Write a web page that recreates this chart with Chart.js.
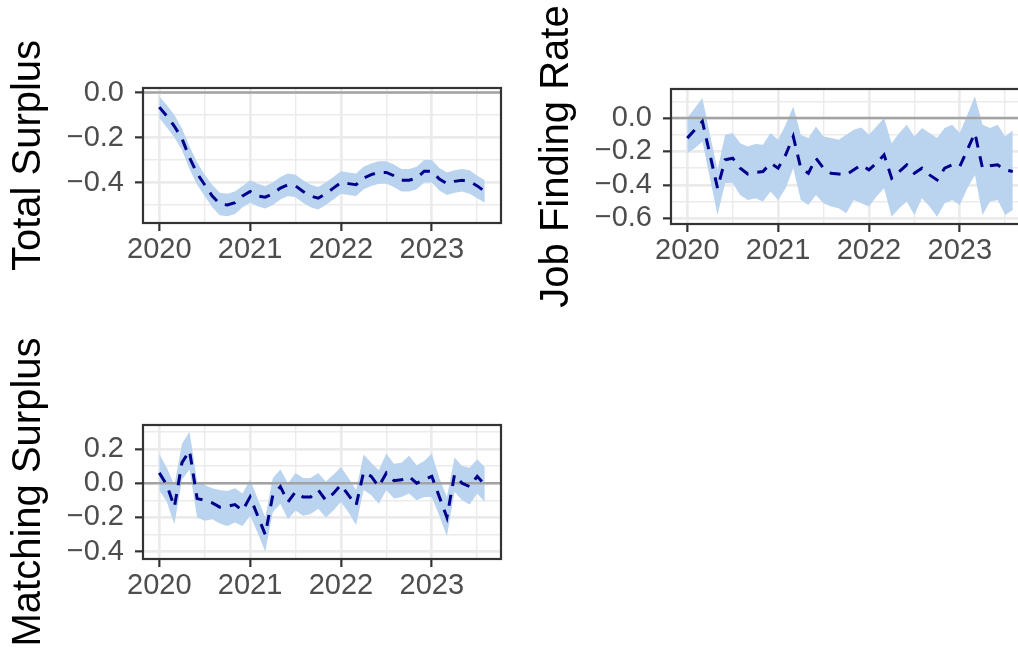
<!DOCTYPE html>
<html>
<head>
<meta charset="utf-8">
<script src="https://cdn.jsdelivr.net/npm/chart.js"></script>
<style>
  body { margin: 0; background: #fff; }
  #wrap { position: relative; width: 1018px; height: 648px; overflow: hidden; }
  canvas { position: absolute; }
</style>
</head>
<body>
<div id="wrap">
  <canvas id="totalChart" width="509" height="324" style="left:0;top:0"></canvas>
  <canvas id="jobChart" width="509" height="324" style="left:528px;top:1px"></canvas>
  <canvas id="matchChart" width="509" height="323" style="left:0;top:337px"></canvas>
</div>
<script>
// monthly observations, Jan 2020 - Aug 2023
const months = [
  '2020-01', '2020-02', '2020-03', '2020-04', '2020-05', '2020-06', '2020-07', '2020-08', '2020-09', '2020-10', '2020-11', '2020-12',
  '2021-01', '2021-02', '2021-03', '2021-04', '2021-05', '2021-06', '2021-07', '2021-08', '2021-09', '2021-10', '2021-11', '2021-12',
  '2022-01', '2022-02', '2022-03', '2022-04', '2022-05', '2022-06', '2022-07', '2022-08', '2022-09', '2022-10', '2022-11', '2022-12',
  '2023-01', '2023-02', '2023-03', '2023-04', '2023-05', '2023-06', '2023-07', '2023-08'
];

const totalEst = [-0.065, -0.105, -0.15, -0.205, -0.29, -0.36, -0.41, -0.46, -0.495, -0.50, -0.49, -0.46,
  -0.44, -0.46, -0.465, -0.45, -0.425, -0.41, -0.415, -0.44, -0.46, -0.47, -0.45, -0.425,
  -0.40, -0.405, -0.41, -0.38, -0.365, -0.355, -0.355, -0.37, -0.39, -0.39, -0.38, -0.35,
  -0.35, -0.385, -0.405, -0.395, -0.39, -0.395, -0.415, -0.44];
const totalLow = [-0.112, -0.155, -0.20, -0.255, -0.34, -0.41, -0.46, -0.51, -0.545, -0.55, -0.54, -0.51,
  -0.49, -0.505, -0.515, -0.50, -0.475, -0.46, -0.465, -0.49, -0.51, -0.52, -0.50, -0.475,
  -0.45, -0.455, -0.46, -0.43, -0.415, -0.405, -0.405, -0.42, -0.44, -0.44, -0.43, -0.40,
  -0.40, -0.435, -0.455, -0.445, -0.44, -0.45, -0.47, -0.49];
const totalHigh = [-0.018, -0.055, -0.10, -0.16, -0.24, -0.31, -0.365, -0.41, -0.445, -0.45, -0.44, -0.415,
  -0.39, -0.405, -0.415, -0.40, -0.375, -0.36, -0.365, -0.39, -0.41, -0.42, -0.40, -0.375,
  -0.35, -0.355, -0.36, -0.33, -0.315, -0.305, -0.305, -0.32, -0.34, -0.34, -0.33, -0.30,
  -0.30, -0.335, -0.355, -0.345, -0.34, -0.345, -0.37, -0.39];

const jobEst = [-0.12, -0.07, -0.02, -0.22, -0.42, -0.25, -0.24, -0.30, -0.335, -0.325, -0.32, -0.27,
  -0.30, -0.22, -0.11, -0.30, -0.33, -0.24, -0.30, -0.33, -0.335, -0.34, -0.31, -0.28,
  -0.31, -0.27, -0.22, -0.36, -0.32, -0.28, -0.33, -0.30, -0.34, -0.37, -0.30, -0.28,
  -0.29, -0.19, -0.09, -0.30, -0.285, -0.28, -0.31, -0.32];
const jobLow = [-0.21, -0.18, -0.14, -0.36, -0.58, -0.39, -0.39, -0.46, -0.49, -0.48, -0.50, -0.44,
  -0.49, -0.42, -0.30, -0.49, -0.52, -0.46, -0.51, -0.53, -0.54, -0.57, -0.49, -0.51,
  -0.53, -0.47, -0.42, -0.59, -0.54, -0.50, -0.58, -0.48, -0.53, -0.59, -0.51, -0.49,
  -0.52, -0.42, -0.34, -0.58, -0.50, -0.49, -0.58, -0.55];
const jobHigh = [0.00, 0.06, 0.12, -0.10, -0.31, -0.10, -0.09, -0.15, -0.17, -0.155, -0.16, -0.09,
  -0.13, -0.04, 0.07, -0.10, -0.12, -0.05, -0.11, -0.12, -0.13, -0.10, -0.07, -0.056,
  -0.10, -0.05, 0.00, -0.15, -0.09, -0.04, -0.11, -0.06, -0.09, -0.12, -0.06, -0.04,
  -0.09, 0.02, 0.13, -0.04, -0.06, -0.04, -0.11, -0.075];

const matchEst = [0.06, -0.01, -0.14, 0.12, 0.19, -0.09, -0.10, -0.115, -0.14, -0.135, -0.125, -0.16,
  -0.08, -0.19, -0.30, -0.07, -0.02, -0.11, -0.05, -0.08, -0.08, -0.04, -0.10, -0.06,
  -0.01, -0.07, -0.13, 0.065, 0.04, -0.02, 0.06, 0.015, 0.02, 0.04, 0.00, 0.02,
  0.04, -0.08, -0.20, 0.05, 0.00, -0.02, 0.04, -0.01];
const matchLow = [-0.04, -0.11, -0.24, 0.02, 0.08, -0.20, -0.22, -0.21, -0.235, -0.25, -0.23, -0.25,
  -0.19, -0.29, -0.40, -0.17, -0.12, -0.21, -0.16, -0.19, -0.18, -0.15, -0.20, -0.16,
  -0.11, -0.17, -0.245, -0.04, -0.07, -0.12, -0.04, -0.09, -0.08, -0.06, -0.10, -0.08,
  -0.08, -0.19, -0.31, -0.05, -0.10, -0.125, -0.06, -0.11];
const matchHigh = [0.17, 0.09, -0.01, 0.23, 0.30, 0.01, -0.01, -0.03, -0.04, -0.045, -0.03, -0.06,
  0.02, -0.09, -0.20, 0.03, 0.08, 0.00, 0.06, 0.03, 0.03, 0.06, 0.01, 0.05,
  0.095, 0.03, -0.04, 0.167, 0.12, 0.076, 0.173, 0.114, 0.12, 0.16, 0.105, 0.13,
  0.173, 0.03, -0.08, 0.15, 0.10, 0.09, 0.14, 0.095];

// tick labels
const xMajor = [2020, 2021, 2022, 2023];
const xMinor = [2020.5, 2021.5, 2022.5, 2023.5];
const totalMajor = [0, -0.2, -0.4];
const totalMinor = [-0.1, -0.3, -0.5];
const jobMajor = [0, -0.2, -0.4, -0.6];
const jobMinor = [0.1, -0.1, -0.3, -0.5];
const matchMajor = [0.2, 0, -0.2, -0.4];
const matchMinor = [0.3, 0.1, -0.1, -0.3];

const xMin = 2019.821;
const xMax = 2023.762;
const FONT = "'Liberation Sans', Arial, sans-serif";

function monthToYear(m) {
  const [y, mo] = m.split('-').map(Number);
  return y + (mo - 1) / 12;
}

function toPoints(values) {
  return values.map((v, i) => ({ x: monthToYear(months[i]), y: v }));
}

function fmt(v) {
  const s = v.toFixed(1);
  return s.replace('-', '\u2212');
}

// ggplot style panel border
const panelBorder = {
  id: 'panelBorder',
  afterDatasetsDraw(chart) {
    const { ctx, chartArea: a } = chart;
    ctx.save();
    ctx.strokeStyle = '#333333';
    ctx.lineWidth = 2.2;
    ctx.strokeRect(a.left, a.top, a.right - a.left, a.bottom - a.top);
    ctx.restore();
  }
};

function gridOpts(major) {
  return {
    color: '#ebebeb',
    lineWidth: c => (c.tick && major.includes(c.tick.value)) ? 2.7 : 1.4,
    tickColor: c => (c.tick && major.includes(c.tick.value)) ? '#333333' : 'rgba(0,0,0,0)',
    tickLength: 8,
    tickWidth: 2.2
  };
}

function makeChart(id, title, est, lo, hi, yMin, yMax, yMajor, yMinor) {
  const ctx = document.getElementById(id).getContext('2d');
  return new Chart(ctx, {
    type: 'line',
    data: {
      datasets: [
        { data: toPoints(est), borderColor: '#00008b', borderWidth: 3, borderDash: [11, 9], pointRadius: 0, fill: false },
        { data: [{ x: xMin, y: 0 }, { x: xMax, y: 0 }], borderColor: '#a3a3a3', borderWidth: 2.6, pointRadius: 0, fill: false },
        { data: toPoints(hi), borderColor: 'rgba(0,0,0,0)', borderWidth: 0, pointRadius: 0, fill: 3, backgroundColor: '#bad3ef' },
        { data: toPoints(lo), borderColor: 'rgba(0,0,0,0)', borderWidth: 0, pointRadius: 0, fill: false }
      ]
    },
    options: {
      responsive: false,
      animation: false,
      events: [],
      layout: { padding: { top: 88, right: 8, left: 0, bottom: 0 } },
      elements: { line: { tension: 0 } },
      plugins: { legend: { display: false }, tooltip: { enabled: false } },
      scales: {
        x: {
          type: 'linear',
          min: xMin,
          max: xMax,
          afterBuildTicks: axis => { axis.ticks = xMajor.concat(xMinor).sort().map(v => ({ value: v })); },
          afterFit: axis => { axis.height = 101; },
          border: { display: false },
          grid: gridOpts(xMajor),
          ticks: {
            autoSkip: false,
            maxRotation: 0,
            padding: 2,
            color: '#4d4d4d',
            font: { family: FONT, size: 29 },
            callback: v => xMajor.includes(v) ? String(v) : ''
          }
        },
        y: {
          min: yMin,
          max: yMax,
          afterBuildTicks: axis => { axis.ticks = yMajor.concat(yMinor).sort((a, b) => a - b).map(v => ({ value: v })); },
          afterFit: axis => { axis.width = 143; },
          border: { display: false },
          grid: gridOpts(yMajor),
          ticks: {
            autoSkip: false,
            padding: 11,
            color: '#4d4d4d',
            font: { family: FONT, size: 29 },
            callback: v => yMajor.includes(v) ? fmt(v) : ''
          },
          title: {
            display: true,
            text: title,
            color: '#000000',
            font: { family: FONT, size: 40 },
            padding: { top: 5, bottom: 0 }
          }
        }
      }
    },
    plugins: [panelBorder]
  });
}

makeChart('totalChart', 'Total Surplus', totalEst, totalLow, totalHigh, -0.58, 0.02, totalMajor, totalMinor);
makeChart('jobChart', 'Job Finding Rate', jobEst, jobLow, jobHigh, -0.634, 0.174, jobMajor, jobMinor);
makeChart('matchChart', 'Matching Surplus', matchEst, matchLow, matchHigh, -0.443, 0.34, matchMajor, matchMinor);
</script>
</body>
</html>
